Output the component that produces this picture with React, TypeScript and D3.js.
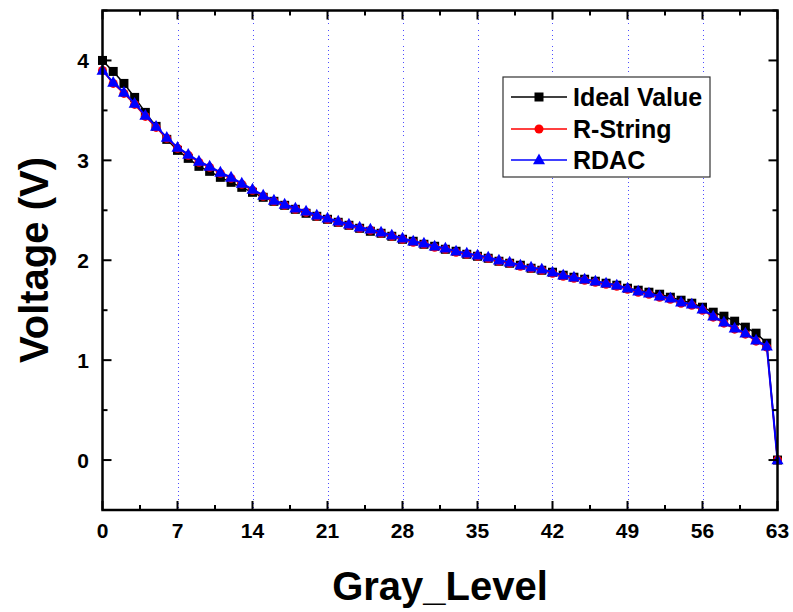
import React from "react";
import * as d3 from "d3";

const grayLevels: number[] = Array.from({ length: 64 }, (_, i) => i);

const idealValue: number[] = [
  4.0, 3.89, 3.77, 3.63, 3.48, 3.34, 3.21, 3.1, 3.02, 2.94,
  2.89, 2.83, 2.78, 2.73, 2.68, 2.63, 2.59, 2.55, 2.51, 2.47,
  2.44, 2.41, 2.38, 2.35, 2.32, 2.29, 2.27, 2.24, 2.21, 2.19,
  2.16, 2.14, 2.11, 2.09, 2.06, 2.04, 2.02, 1.99, 1.97, 1.95,
  1.92, 1.9, 1.88, 1.85, 1.83, 1.81, 1.79, 1.77, 1.75, 1.72,
  1.7, 1.68, 1.66, 1.63, 1.6, 1.57, 1.53, 1.48, 1.44, 1.39,
  1.33, 1.27, 1.17, 0.0,
];

const rString: number[] = [
  3.9, 3.77, 3.67, 3.56, 3.44, 3.33, 3.22, 3.12, 3.05, 2.98,
  2.93, 2.87, 2.82, 2.76, 2.7, 2.64, 2.59, 2.55, 2.51, 2.48,
  2.44, 2.41, 2.38, 2.35, 2.32, 2.3, 2.27, 2.24, 2.21, 2.18,
  2.16, 2.13, 2.11, 2.08, 2.06, 2.04, 2.02, 1.99, 1.97, 1.94,
  1.92, 1.9, 1.87, 1.84, 1.82, 1.8, 1.78, 1.76, 1.74, 1.71,
  1.68, 1.66, 1.63, 1.61, 1.57, 1.55, 1.5, 1.43, 1.37, 1.31,
  1.26, 1.19, 1.13, 0.0,
];

const rdac: number[] = [
  3.9, 3.78, 3.68, 3.57, 3.45, 3.34, 3.23, 3.13, 3.06, 2.99,
  2.94, 2.88, 2.83, 2.77, 2.71, 2.65, 2.6, 2.56, 2.52, 2.49,
  2.45, 2.42, 2.39, 2.36, 2.33, 2.31, 2.28, 2.25, 2.22, 2.19,
  2.17, 2.14, 2.12, 2.09, 2.07, 2.05, 2.03, 2.0, 1.98, 1.95,
  1.93, 1.91, 1.88, 1.85, 1.83, 1.81, 1.79, 1.77, 1.75, 1.72,
  1.69, 1.67, 1.64, 1.62, 1.58, 1.56, 1.51, 1.44, 1.38, 1.32,
  1.27, 1.2, 1.14, 0.0,
];

const xTicks: number[] = [0, 7, 14, 21, 28, 35, 42, 49, 56, 63];
const xMinorTicks: number[] = [3.5, 10.5, 17.5, 24.5, 31.5, 38.5, 45.5, 52.5, 59.5];
const yTicks: number[] = [0, 1, 2, 3, 4];
const yMinorTicks: number[] = [-0.5, 0.5, 1.5, 2.5, 3.5, 4.5];
const gridX: number[] = [7, 14, 21, 28, 35, 42, 49, 56];

const seriesNames: string[] = ["Ideal Value", "R-String", "RDAC"];
const seriesColors: string[] = ["#000000", "#ff0000", "#0000ff"];

const FONT = "'Liberation Sans', Arial, sans-serif";

export default function App() {
  const W = 793;
  const H = 612;
  const L = 102.5, R = 777.5, T = 10.5, B = 510;
  const x = d3.scaleLinear().domain([0, 63]).range([L, R]);
  const y = d3.scaleLinear().domain([-0.5, 4.5]).range([B, T]);

  const line = d3
    .line<number>()
    .x((_, i) => x(grayLevels[i]))
    .y((d) => y(d));

  const series = [idealValue, rString, rdac];

  const square = (cx: number, cy: number, s: number, c: string, k: string) => (
    <rect key={k} x={cx - s / 2} y={cy - s / 2} width={s} height={s} fill={c} />
  );
  const circle = (cx: number, cy: number, r: number, c: string, k: string) => (
    <circle key={k} cx={cx} cy={cy} r={r} fill={c} />
  );
  const tri = (cx: number, cy: number, s: number, c: string, k: string) => {
    const h = s * 0.9;
    return (
      <path
        key={k}
        d={`M${cx},${cy - h * 0.6} L${cx + s / 2},${cy + h * 0.4} L${cx - s / 2},${cy + h * 0.4} Z`}
        fill={c}
      />
    );
  };
  const markerFns = [
    (cx: number, cy: number, k: string) => square(cx, cy, 9, seriesColors[0], k),
    (cx: number, cy: number, k: string) => circle(cx, cy, 4.5, seriesColors[1], k),
    (cx: number, cy: number, k: string) => tri(cx, cy, 12, seriesColors[2], k),
  ];

  const legendX = 503, legendY = 77, legendW = 207, legendH = 100;
  const legendRows = [97, 129, 160];

  return (
    <svg width={W} height={H} style={{ position: "absolute", left: 0, top: 0 }}>
      <rect x={0} y={0} width={W} height={H} fill="#fff" />
      {/* grid */}
      {gridX.map((g) => (
        <line
          key={"g" + g}
          x1={Math.round(x(g)) + 0.5}
          x2={Math.round(x(g)) + 0.5}
          y1={T}
          y2={B}
          stroke="#4d4dff"
          strokeWidth={1}
          strokeDasharray="1 3"
          shapeRendering="crispEdges"
        />
      ))}
      {/* series */}
      {series.map((s, si) => (
        <g key={"s" + si}>
          <path d={line(s) || ""} fill="none" stroke={seriesColors[si]} strokeWidth={si === 2 ? 2 : 1.5} />
          {s.map((v, i) => markerFns[si](x(grayLevels[i]), y(v), `m${si}-${i}`))}
        </g>
      ))}
      {/* frame */}
      <rect x={L} y={T} width={R - L} height={B - T} fill="none" stroke="#000" strokeWidth={2.5} />
      {/* x ticks */}
      {xTicks.map((t) => (
        <g key={"xt" + t}>
          <line x1={x(t)} x2={x(t)} y1={B} y2={B - 9} stroke="#000" strokeWidth={2} />
          <line x1={x(t)} x2={x(t)} y1={T} y2={T + 9} stroke="#000" strokeWidth={2} />
          <text x={x(t)} y={538} textAnchor="middle" fontFamily={FONT} fontWeight="bold" fontSize={21}>
            {t}
          </text>
        </g>
      ))}
      {xMinorTicks.map((t) => (
        <g key={"xm" + t}>
          <line x1={x(t)} x2={x(t)} y1={B} y2={B - 5} stroke="#000" strokeWidth={2} />
          <line x1={x(t)} x2={x(t)} y1={T} y2={T + 5} stroke="#000" strokeWidth={2} />
        </g>
      ))}
      {/* y ticks */}
      {yTicks.map((t) => (
        <g key={"yt" + t}>
          <line x1={L} x2={L + 9} y1={y(t)} y2={y(t)} stroke="#000" strokeWidth={2} />
          <line x1={R} x2={R - 9} y1={y(t)} y2={y(t)} stroke="#000" strokeWidth={2} />
          <text x={89} y={y(t) + 7.5} textAnchor="end" fontFamily={FONT} fontWeight="bold" fontSize={21}>
            {t}
          </text>
        </g>
      ))}
      {yMinorTicks.map((t) => (
        <g key={"ym" + t}>
          <line x1={L} x2={L + 5} y1={y(t)} y2={y(t)} stroke="#000" strokeWidth={2} />
          <line x1={R} x2={R - 5} y1={y(t)} y2={y(t)} stroke="#000" strokeWidth={2} />
        </g>
      ))}
      {/* axis titles */}
      <text
        x={440}
        y={600}
        textAnchor="middle"
        fontFamily={FONT}
        fontWeight="bold"
        fontSize={40}
      >
        Gray_Level
      </text>
      <text
        transform={`translate(48,${260}) rotate(-90)`}
        textAnchor="middle"
        fontFamily={FONT}
        fontWeight="bold"
        fontSize={40}
      >
        Voltage (V)
      </text>
      {/* legend */}
      <rect x={legendX} y={legendY} width={legendW} height={legendH} fill="#fff" stroke="#333" strokeWidth={1.2} />
      {seriesNames.map((n, i) => (
        <g key={"lg" + i}>
          <line x1={511} x2={567} y1={legendRows[i]} y2={legendRows[i]} stroke={seriesColors[i]} strokeWidth={1.5} />
          {markerFns[i](539, legendRows[i], "lm" + i)}
          <text x={573} y={legendRows[i] + 9} fontFamily={FONT} fontWeight="bold" fontSize={25}>
            {n}
          </text>
        </g>
      ))}
    </svg>
  );
}
